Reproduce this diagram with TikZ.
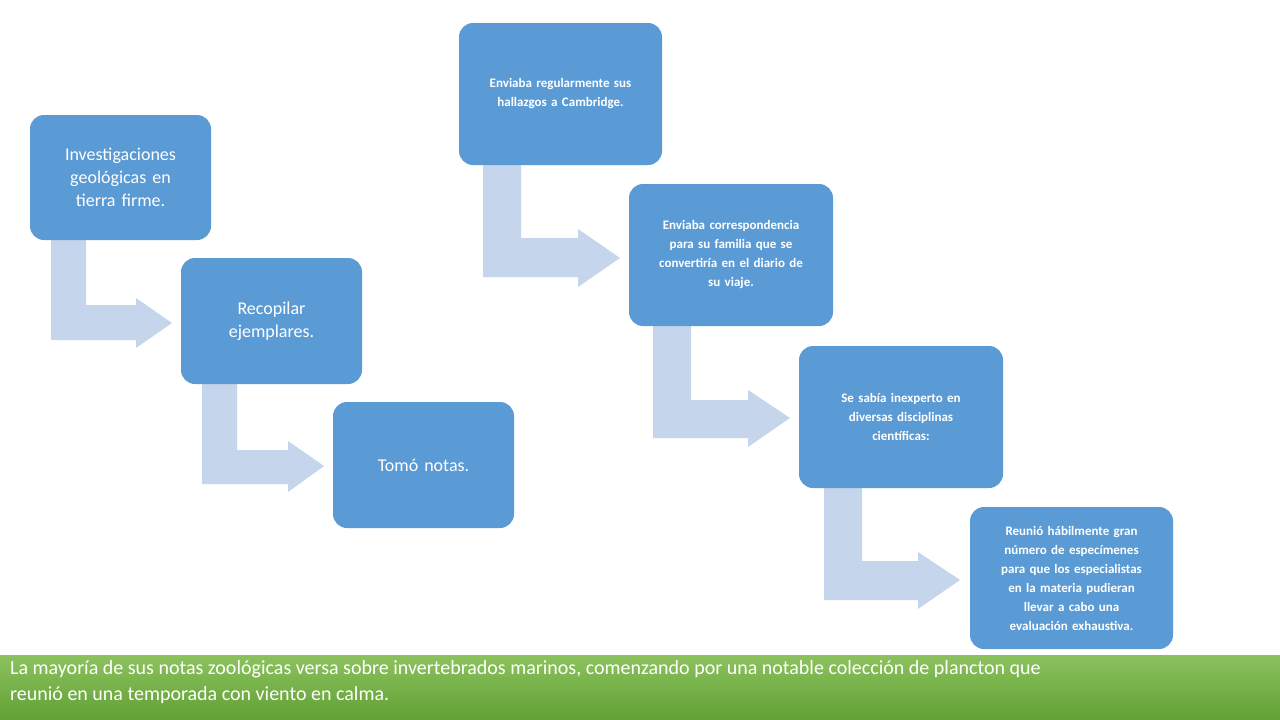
\documentclass[tikz,border=0pt]{standalone}
\usepackage{fontspec}
\setmainfont{Carlito}
\begin{document}
\begin{tikzpicture}[x=1pt,y=-1pt,
  big/.style={fill=boxblue,rounded corners=14pt,text=white,align=center,font=\fontsize{18}{23}\selectfont},
  small/.style={fill=boxblue,rounded corners=14pt,text=white,align=center,font=\bfseries\fontsize{13}{19}\selectfont},
  arr/.style={fill=arrblue}]
\definecolor{boxblue}{HTML}{5B9BD5}
\definecolor{arrblue}{HTML}{C5D5EB}
\definecolor{gtop}{HTML}{8CC25E}
\definecolor{gbot}{HTML}{60A034}
\useasboundingbox (0,0) rectangle (1280,720);
\fill[white] (0,0) rectangle (1280,720);
% arrows
\fill[arr] (51,240) -- (86,240) -- (86,305) -- (136,305) -- (136,298) -- (172,323) -- (136,348) -- (136,340) -- (51,340) -- cycle;
\fill[arr] (202,384) -- (237,384) -- (237,450) -- (288,450) -- (288,441) -- (324,466) -- (288,492) -- (288,484) -- (202,484) -- cycle;
\fill[arr] (483,165) -- (521,165) -- (521,238) -- (578,238) -- (578,229) -- (620,258) -- (578,287) -- (578,277) -- (483,277) -- cycle;
\fill[arr] (653,326) -- (691,326) -- (691,400) -- (748,400) -- (748,390) -- (790,418) -- (748,447) -- (748,438) -- (653,438) -- cycle;
\fill[arr] (824,488) -- (862,488) -- (862,561) -- (918,561) -- (918,552) -- (960,580) -- (918,609) -- (918,600) -- (824,600) -- cycle;
% boxes
\node[big,minimum width=181pt,minimum height=125pt,text width=165pt] (a) at (120.5,177.5) {Investigaciones\\geológicas en\\tierra firme.};
\node[big,minimum width=181pt,minimum height=126pt,text width=165pt] (b) at (271.5,321) {Recopilar\\ejemplares.};
\node[big,minimum width=181pt,minimum height=126pt,text width=165pt] (c) at (423.5,465) {Tomó notas.};
\node[small,minimum width=203pt,minimum height=142pt,text width=190pt] (d) at (560.5,94) {Enviaba regularmente sus\\hallazgos a Cambridge.};
\node[small,minimum width=204pt,minimum height=142pt,text width=190pt] (e) at (731,255) {Enviaba correspondencia\\para su familia que se\\convertiría en el diario de\\su viaje.};
\node[small,minimum width=204pt,minimum height=142pt,text width=190pt] (f) at (901,417) {Se sabía inexperto en\\diversas disciplinas\\científicas:};
\node[small,minimum width=203pt,minimum height=142pt,text width=190pt] (g) at (1071.5,578) {Reunió hábilmente gran\\número de especímenes\\para que los especialistas\\en la materia pudieran\\llevar a cabo una\\evaluación exhaustiva.};
% bottom bar
\shade[top color=gtop,bottom color=gbot] (0,655) rectangle (1280,720);
\node[anchor=north west,text=white,align=left,font=\fontsize{20}{26}\selectfont,inner sep=0pt] (t) at (10,660) {La mayoría de sus notas zoológicas versa sobre invertebrados marinos, comenzando por una notable colección de plancton que\\reunió en una temporada con viento en calma.};
\end{tikzpicture}
\end{document}
